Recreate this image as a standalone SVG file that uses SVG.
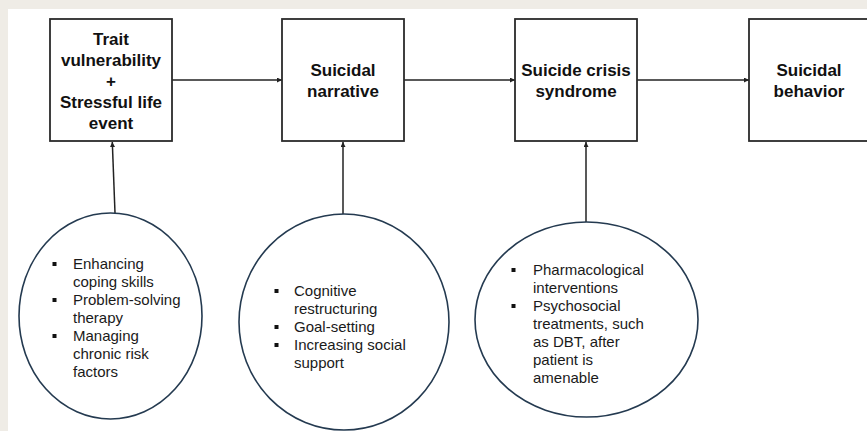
<svg xmlns="http://www.w3.org/2000/svg" width="867" height="431" viewBox="0 0 867 431">
<defs>
<style>
.box{fill:#fff;stroke:#2b2b2b;stroke-width:1.8}
.circ{fill:#fff;stroke:#243a50;stroke-width:1.6}
.t{font-family:"Liberation Sans",Arial,sans-serif;font-weight:bold;font-size:17px;fill:#111;text-anchor:middle}
.b{font-family:"Liberation Sans",Arial,sans-serif;font-size:15px;fill:#1a1a1a}
.con{stroke:#222;stroke-width:1.5;fill:none;marker-end:url(#ah)}
.bul{fill:#111}
</style>
<marker id="ah" viewBox="0 0 10 10" refX="10" refY="5" markerWidth="5" markerHeight="5" markerUnits="userSpaceOnUse" orient="auto">
<path d="M0,0L10,5L0,10z" fill="#222"/>
</marker>
</defs>
<rect x="0" y="0" width="867" height="431" fill="#efece6"/>
<rect x="8" y="9" width="859" height="422" fill="#fff"/>

<g id="connectors">
<line class="con" x1="172" y1="80" x2="282" y2="80"/>
<line class="con" x1="404" y1="80" x2="515" y2="80"/>
<line class="con" x1="637" y1="80" x2="749" y2="80"/>
<line class="con" x1="115" y1="213" x2="112.3" y2="142"/>
<line class="con" x1="343" y1="214" x2="343" y2="142"/>
<line class="con" x1="586" y1="222" x2="586" y2="142"/>
</g>

<g id="n1">
<rect class="box" x="50" y="19" width="122" height="122"/>
<text class="t" x="111" y="45">Trait</text>
<text class="t" x="111" y="66">vulnerability</text>
<text class="t" x="111" y="87">+</text>
<text class="t" x="111" y="108">Stressful life</text>
<text class="t" x="111" y="129">event</text>
</g>
<g id="n2">
<rect class="box" x="282" y="19" width="122" height="122"/>
<text class="t" x="343" y="76">Suicidal</text>
<text class="t" x="343" y="97">narrative</text>
</g>
<g id="n3">
<rect class="box" x="515" y="19" width="122" height="122"/>
<text class="t" x="576" y="76">Suicide crisis</text>
<text class="t" x="576" y="97">syndrome</text>
</g>
<g id="n4">
<rect class="box" x="749" y="19" width="122" height="122"/>
<text class="t" x="809" y="76">Suicidal</text>
<text class="t" x="809" y="97">behavior</text>
</g>

<g id="c1">
<ellipse class="circ" cx="110.5" cy="316" rx="91.5" ry="103"/>
<rect class="bul" x="52.5" y="262" width="4" height="4"/>
<rect class="bul" x="52.5" y="298" width="4" height="4"/>
<rect class="bul" x="52.5" y="334" width="4" height="4"/>
<text class="b" x="73" y="269">Enhancing</text>
<text class="b" x="73" y="287">coping skills</text>
<text class="b" x="73" y="305">Problem-solving</text>
<text class="b" x="73" y="323">therapy</text>
<text class="b" x="73" y="341">Managing</text>
<text class="b" x="73" y="359">chronic risk</text>
<text class="b" x="73" y="377">factors</text>
</g>
<g id="c2">
<ellipse class="circ" cx="344" cy="322" rx="105" ry="108"/>
<rect class="bul" x="274.5" y="289" width="4" height="4"/>
<rect class="bul" x="274.5" y="325" width="4" height="4"/>
<rect class="bul" x="274.5" y="343" width="4" height="4"/>
<text class="b" x="294" y="296">Cognitive</text>
<text class="b" x="294" y="314">restructuring</text>
<text class="b" x="294" y="332">Goal-setting</text>
<text class="b" x="294" y="350">Increasing social</text>
<text class="b" x="294" y="368">support</text>
</g>
<g id="c3">
<ellipse class="circ" cx="586.5" cy="319.5" rx="111.5" ry="97.5"/>
<rect class="bul" x="511.5" y="268" width="4" height="4"/>
<rect class="bul" x="511.5" y="304" width="4" height="4"/>
<text class="b" x="533" y="275">Pharmacological</text>
<text class="b" x="533" y="293">interventions</text>
<text class="b" x="533" y="311">Psychosocial</text>
<text class="b" x="533" y="329">treatments, such</text>
<text class="b" x="533" y="347">as DBT, after</text>
<text class="b" x="533" y="365">patient is</text>
<text class="b" x="533" y="383">amenable</text>
</g>
</svg>
